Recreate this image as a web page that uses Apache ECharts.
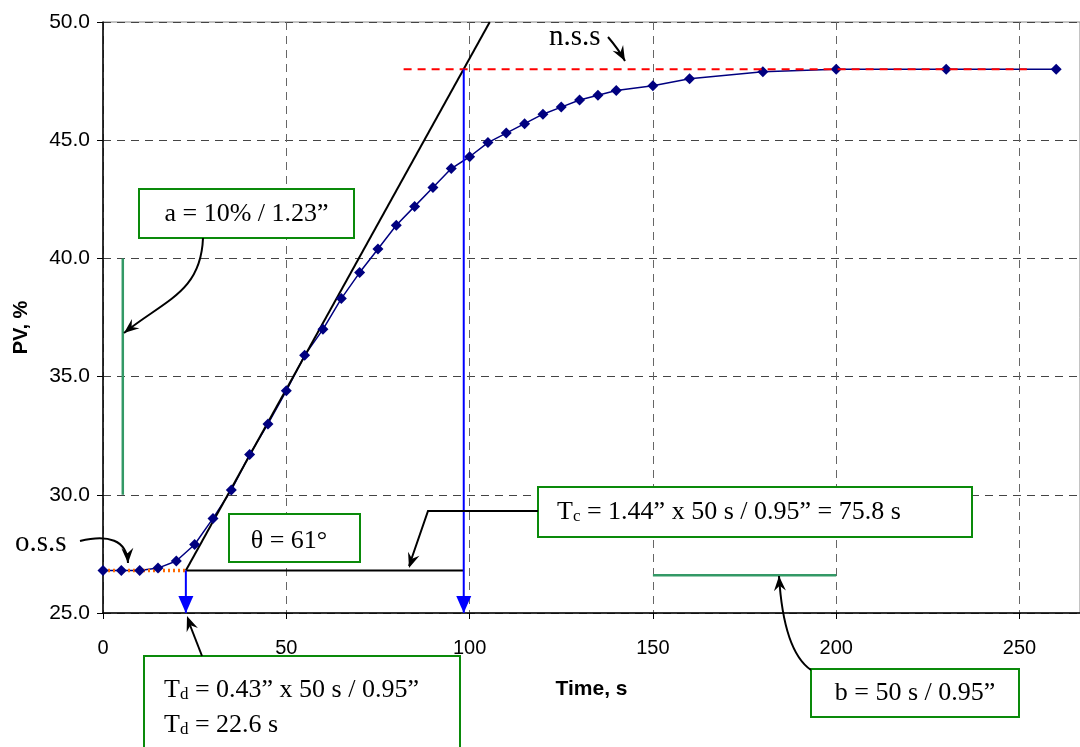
<!DOCTYPE html>
<html><head><meta charset="utf-8">
<script src="https://cdn.jsdelivr.net/npm/echarts@6/dist/echarts.min.js"></script>
<style>html,body{margin:0;padding:0;background:#fff}#c{width:1080px;height:747px}</style>
</head><body><div id="c"></div>
<script>
// ---- data ----
const times = [0,5,10,15,20,25,30,35,40,45,50,55,60,65,70,75,80,85,90,95,100,105,110,115,120,125,130,135,140,150,160,180,200,230,260];
const pv    = [26.8,26.8,26.8,26.9,27.2,27.9,29.0,30.2,31.7,33.0,34.4,35.9,37.0,38.3,39.4,40.4,41.4,42.2,43.0,43.8,44.3,44.9,45.3,45.7,46.1,46.4,46.7,46.9,47.1,47.3,47.6,47.9,48.0,48.0,48.0];
const xTickLabels = ['0','50','100','150','200','250'];
const yTickLabels = ['25.0','30.0','35.0','40.0','45.0','50.0'];
// construction lines
const deadTime = 22.6;          // T_d
const tcEnd = 98.4;             // T_d + T_c
const ossPV = 26.8;             // original steady state
const nssPV = 48.0;             // new steady state
const tangentX = [22.6, 105.5];
const tangentY = [26.8, 50.0];
const nssLineX = [82, 252];
const aBarX = 5.4, aBarY = [30, 40];
const bBarY = 26.6, bBarX = [150, 200];

const chart = echarts.init(document.getElementById('c'), null, {renderer: 'canvas'});
const serif = 'Liberation Serif, Times New Roman, serif';
const sans = 'Liberation Sans, Arial, sans-serif';
const boxGreen = '#0a8a0a';
const barGreen = '#339966';

function arrowHead(tip, from, len, wid) {
  len = len || 15; wid = wid || 6;
  const dx = tip[0] - from[0], dy = tip[1] - from[1];
  const L = Math.hypot(dx, dy); const ux = dx / L, uy = dy / L;
  const px = -uy, py = ux;
  const bx = tip[0] - ux * len, by = tip[1] - uy * len;
  const nx = tip[0] - ux * len * 0.65, ny = tip[1] - uy * len * 0.65;
  return {type: 'polygon', z: 100, shape: {points: [tip, [bx + px * wid, by + py * wid], [nx, ny], [bx - px * wid, by - py * wid]]},
          style: {fill: '#000'}};
}
function curveArrow(p0, c1, c2, p1) {
  return [
    {type: 'bezierCurve', z: 100, shape: {x1: p0[0], y1: p0[1], cpx1: c1[0], cpy1: c1[1], cpx2: c2[0], cpy2: c2[1], x2: p1[0], y2: p1[1]},
     style: {stroke: '#000', lineWidth: 2, fill: null}},
    arrowHead(p1, c2)
  ];
}
function box(x, y, w, h) {
  return {type: 'rect', z: 90, shape: {x: x, y: y, width: w, height: h}, style: {fill: '#fff', stroke: boxGreen, lineWidth: 2}};
}
function txt(x, y, t, opts) {
  return Object.assign({type: 'text', z: 95, x: x, y: y,
    style: Object.assign({text: t, fill: '#000', font: '26px ' + serif, textAlign: 'left', textVerticalAlign: 'middle'}, (opts || {}))});
}
const sub = {s: {fontSize: 17, fontFamily: serif, verticalAlign: 'bottom', padding: [6, 0, 0, 0]}};

const graphics = [].concat(
  box(139, 189, 215, 49),
  txt(246.5, 214, 'a = 10% / 1.23\u201D', {textAlign: 'center'}),
  box(229, 514, 131, 48),
  txt(289, 541, '\u03B8 = 61\u00B0', {textAlign: 'center'}),
  box(538, 487, 434, 50),
  {type: 'text', z: 95, x: 557, y: 512, style: {text: 'T{s|c} = 1.44\u201D x 50 s / 0.95\u201D = 75.8 s', fill: '#000', fontSize: 26, fontFamily: serif, textVerticalAlign: 'middle', rich: sub}},
  box(144, 656, 316, 110),
  {type: 'text', z: 95, x: 164, y: 690, style: {text: 'T{s|d} = 0.43\u201D x 50 s / 0.95\u201D', fill: '#000', fontSize: 26, fontFamily: serif, textVerticalAlign: 'middle', rich: sub}},
  {type: 'text', z: 95, x: 164, y: 725, style: {text: 'T{s|d} = 22.6 s', fill: '#000', fontSize: 26, fontFamily: serif, textVerticalAlign: 'middle', rich: sub}},
  box(811, 669, 208, 48),
  txt(915, 693, 'b = 50 s / 0.95\u201D', {textAlign: 'center'}),
  txt(549, 37, 'n.s.s', {font: '29px ' + serif}),
  txt(15, 543, 'o.s.s', {font: '29px ' + serif}),
  curveArrow([203, 238], [201, 292], [165, 300], [124, 333]),
  curveArrow([80, 541], [108, 534], [127, 540], [128, 563]),
  curveArrow([608, 37], [614, 44], [619, 50], [625, 61]),
  curveArrow([811, 670], [792, 657], [782, 625], [779, 576]),
  [{type: 'polyline', z: 100, shape: {points: [[538, 511], [428, 511], [409, 566]]}, style: {stroke: '#000', lineWidth: 2, fill: null}},
   arrowHead([409, 568], [428, 511]),
   {type: 'line', z: 100, shape: {x1: 202, y1: 656, x2: 188, y2: 620}, style: {stroke: '#000', lineWidth: 2}},
   arrowHead([187, 616], [202, 656])]
);

function seg(x0, y0, x1, y1) { return [[x0, y0], [x1, y1]]; }
function lineSeries(data, color, width, type, z) {
  return {type: 'line', data: data, showSymbol: false, symbol: 'none', silent: true, z: z || 2,
          lineStyle: {color: color, width: width, type: type || 'solid'}};
}
function arrowSeries(xv, yTop, yBot) {
  return {type: 'line', silent: true, z: 6, lineStyle: {color: '#0000ff', width: 2},
    data: [{value: [xv, yTop], symbol: 'none'},
           {value: [xv, yBot], symbol: 'triangle', symbolSize: [15, 17], symbolRotate: 180, symbolOffset: [0, -8.5],
            itemStyle: {color: '#0000ff'}}]};
}
const pvPoints = times.map((t, i) => [t, pv[i]]);

const option = {
  animation: false,
  backgroundColor: '#fff',
  grid: {left: 103, top: 22, right: 0, bottom: 134, show: true, borderColor: '#888', borderWidth: 1},
  xAxis: {
    type: 'value', min: 0, max: 266.5, interval: 50,
    name: 'Time, s', nameLocation: 'middle', nameGap: 66,
    nameTextStyle: {fontFamily: sans, fontWeight: 'bold', fontSize: 21, color: '#000'},
    axisLine: {show: true, onZero: false, lineStyle: {color: '#000', width: 1.5}},
    axisTick: {show: true, length: 6, lineStyle: {color: '#000'}},
    axisLabel: {showMaxLabel: false, fontFamily: sans, fontSize: 20, color: '#000', margin: 25,
      formatter: v => xTickLabels[Math.round(v / 50)] || ''},
    splitLine: {show: true, lineStyle: {color: '#666', type: [8, 6], width: 1}}
  },
  yAxis: {
    type: 'value', min: 25, max: 50, interval: 5,
    name: 'PV, %', nameLocation: 'middle', nameGap: 72, nameRotate: 90,
    nameTextStyle: {fontFamily: sans, fontWeight: 'bold', fontSize: 20, color: '#000', padding: [0, 20, 0, 0]},
    axisLine: {show: true, lineStyle: {color: '#000', width: 1.5}},
    axisTick: {show: true, length: 6, lineStyle: {color: '#000'}},
    axisLabel: {fontFamily: sans, fontSize: 21, color: '#000', margin: 13,
      formatter: v => yTickLabels[Math.round((v - 25) / 5)] || ''},
    splitLine: {show: true, lineStyle: {color: '#444', type: [8, 6], width: 1}}
  },
  series: [
    {type: 'line', z: 1, data: pvPoints, symbol: 'none', showSymbol: false, silent: true,
     lineStyle: {color: '#000080', width: 1.5}},
    lineSeries(seg(0, ossPV, deadTime, ossPV), '#ff6a00', 3.5, [2, 3], 2),
    lineSeries(seg(aBarX, aBarY[0], aBarX, aBarY[1]), barGreen, 2.5, 'solid', 2),
    lineSeries(seg(bBarX[0], bBarY, bBarX[1], bBarY), barGreen, 2.5, 'solid', 2),
    lineSeries(seg(tangentX[0], tangentY[0], tangentX[1], tangentY[1]), '#000', 2, 'solid', 3),
    lineSeries(seg(deadTime, ossPV, tcEnd, ossPV), '#000', 2, 'solid', 3),
    {type: 'scatter', z: 4, data: pvPoints, symbol: 'diamond', symbolSize: 11, silent: true,
     itemStyle: {color: '#000080', opacity: 1}},
    lineSeries(seg(nssLineX[0], nssPV, nssLineX[1], nssPV), '#ff0000', 2, [8, 6], 5),
    arrowSeries(deadTime, ossPV, 25),
    arrowSeries(tcEnd, nssPV, 25)
  ],
  graphic: graphics
};
chart.setOption(option);
</script>
</body></html>
